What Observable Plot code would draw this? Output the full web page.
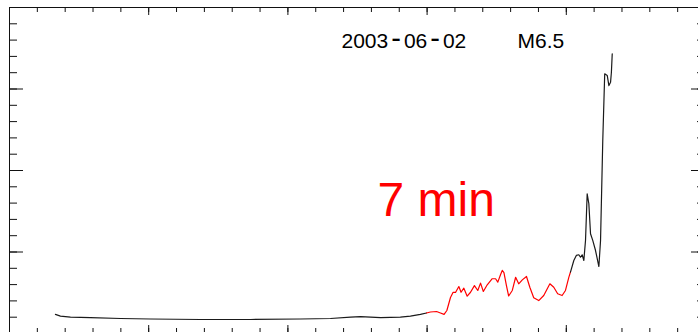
<!DOCTYPE html>
<html>
<head>
<meta charset="utf-8">
<script src="https://cdn.jsdelivr.net/npm/d3@7"></script>
<script src="https://cdn.jsdelivr.net/npm/@observablehq/plot@0.6"></script>
<style>
  html, body { margin: 0; padding: 0; background: #fff; overflow: hidden; }
  #chart svg { display: block; max-width: none !important; }
</style>
</head>
<body>
<div id="chart"></div>
<script>
// Light curve samples (time in axis units, flux in axis units)
const time = [
  1.65, 1.83, 2.19, 2.91, 3.99, 5.07, 6.86, 8.66, 10.45, 11.53, 12.25, 12.61, 13.33, 14.04, 14.40, 14.76,
  14.98, 15.12, 15.34, 15.48, 15.61, 15.71, 15.84, 15.93, 16.02, 16.14, 16.22, 16.32, 16.44, 16.56, 16.70,
  16.82, 16.92, 17.02, 17.16, 17.34, 17.46, 17.54, 17.64, 17.70, 17.76, 17.85, 17.93, 18.06, 18.18, 18.29,
  18.42, 18.57, 18.69, 18.83, 19.01, 19.19, 19.41, 19.55, 19.69, 19.85, 19.97, 20.09, 20.15,
  20.27, 20.36, 20.45, 20.51, 20.57, 20.63, 20.69, 20.75, 20.81, 20.87, 20.95, 21.05, 21.17, 21.23,
  21.31, 21.38, 21.47, 21.53, 21.59, 21.62, 21.65
];
const flux = [
  1.17, 1.07, 1.01, 0.98, 0.92, 0.89, 0.86, 0.86, 0.89, 0.92, 1.01, 1.04, 0.98, 1.01, 1.07, 1.17,
  1.26, 1.32, 1.35, 1.26, 1.17, 1.41, 2.21, 2.52, 2.52, 2.88, 2.53, 2.78, 2.29, 2.53, 2.94,
  2.64, 3.09, 2.58, 2.99, 3.36, 3.36, 3.15, 3.62, 3.87, 3.74, 2.94, 2.30, 2.64, 3.45, 3.05,
  3.29, 3.50, 2.84, 2.19, 2.02, 2.33, 3.05, 2.84, 2.44, 2.33, 2.64, 3.44, 3.77,
  4.48, 4.79, 4.83, 4.68, 4.83, 4.48, 5.71, 8.57, 7.96, 6.12, 5.71, 5.09, 4.11, 5.71,
  11.84, 15.93, 15.83, 15.21, 15.42, 16.03, 17.16
];

// Highlighted interval of the rise
const hardStart = 14.98;
const hardEnd = 20.15;

// Axis extents and tick steps
const xDomain = [0, 25];
const yDomain = [0, 20];
const xMajorStep = 5;
const yMajorStep = 5;

const dateLabel = "2003-06-02";
const classLabel = "M6.5";
const spanLabel = "7 min";

const points = time.map((t, i) => ({t, v: flux[i]}));
const before = points.filter(d => d.t <= hardStart);
const during = points.filter(d => d.t >= hardStart && d.t <= hardEnd);
const after = points.filter(d => d.t >= hardEnd);

const xMinor = d3.range(xDomain[0], xDomain[1] + 1e-9, 1);
const yMinor = d3.range(yDomain[0], yDomain[1] + 1e-9, 1);
const xMajor = xMinor.filter(d => d % xMajorStep === 0);
const yMajor = yMinor.filter(d => d % yMajorStep === 0);

const W = 712, H = 340;
const mL = 9, mT = 7, mR = 7, mB = 7;
const innerW = W - mL - mR;
const innerH = H - mT - mB;
const font = "'Liberation Sans', Arial, Helvetica, sans-serif";

const chart = Plot.plot({
  width: W,
  height: H,
  marginLeft: mL,
  marginTop: mT,
  marginRight: mR,
  marginBottom: mB,
  x: {domain: xDomain, axis: null},
  y: {domain: yDomain, axis: null},
  style: {fontFamily: font, background: "#fff", maxWidth: "none"},
  marks: [
    Plot.frame({stroke: "#111", strokeWidth: 1}),
    // bottom and top ticks
    Plot.tickX(xMinor, {x: d => d, insetTop: innerH - 5, stroke: "#111"}),
    Plot.tickX(xMajor, {x: d => d, insetTop: innerH - 8, stroke: "#111"}),
    Plot.tickX(xMinor, {x: d => d, insetBottom: innerH - 5, stroke: "#111"}),
    Plot.tickX(xMajor, {x: d => d, insetBottom: innerH - 8, stroke: "#111"}),
    // left and right ticks
    Plot.tickY(yMinor, {y: d => d, insetRight: innerW - 8, stroke: "#111"}),
    Plot.tickY(yMajor, {y: d => d, insetRight: innerW - 14, stroke: "#111"}),
    Plot.tickY(yMinor, {y: d => d, insetLeft: innerW - 8, stroke: "#111"}),
    Plot.tickY(yMajor, {y: d => d, insetLeft: innerW - 14, stroke: "#111"}),
    // light curve
    Plot.line(before, {x: "t", y: "v", stroke: "#1a1a1a", strokeWidth: 1.2}),
    Plot.line(during, {x: "t", y: "v", stroke: "#ff0000", strokeWidth: 1.2}),
    Plot.line(after, {x: "t", y: "v", stroke: "#1a1a1a", strokeWidth: 1.2}),
    // annotations
    Plot.text([dateLabel], {text: d => d, frameAnchor: "top-left", dx: 332, dy: 40, textAnchor: "start", lineAnchor: "bottom", fontSize: 21, fill: "#000"}),
    Plot.text([classLabel], {text: d => d, frameAnchor: "top-left", dx: 508, dy: 40, textAnchor: "start", lineAnchor: "bottom", fontSize: 21, fill: "#000"}),
    Plot.text([spanLabel], {text: d => d, frameAnchor: "top-left", dx: 368, dy: 208, textAnchor: "start", lineAnchor: "bottom", fontSize: 48, fill: "#ff0000"})
  ]
});

// Give the date's dashes a little more room, centred on the digits
const dateNode = Array.from(chart.querySelectorAll("text")).find(n => n.textContent === dateLabel);
if (dateNode) {
  const parts = dateLabel.split(/(-)/);
  dateNode.textContent = "";
  let afterDash = false;
  for (const p of parts) {
    const ts = document.createElementNS("http://www.w3.org/2000/svg", "tspan");
    ts.textContent = p;
    if (p === "-") {
      ts.setAttribute("dx", 3);
      ts.setAttribute("font-size", 29);
    } else if (afterDash) {
      ts.setAttribute("dx", 3);
    }
    afterDash = p === "-";
    dateNode.appendChild(ts);
  }
}

document.getElementById("chart").appendChild(chart);
</script>
</body>
</html>
